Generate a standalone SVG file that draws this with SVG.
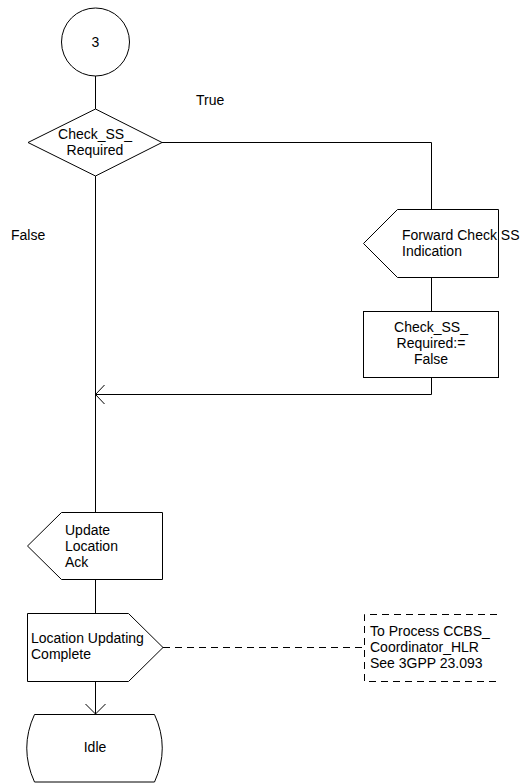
<svg xmlns="http://www.w3.org/2000/svg" width="522" height="783" viewBox="0 0 522 783">
<style>
.s{fill:#fff;stroke:#000;stroke-width:1}
.l{fill:none;stroke:#000;stroke-width:1}
.d{fill:none;stroke:#000;stroke-width:1;stroke-dasharray:7,5}
text{font-family:"Liberation Sans",Arial,sans-serif;font-size:14px;fill:#000}
.c{text-anchor:middle}
</style>
<rect width="522" height="783" fill="#fff"/>
<g id="connectors">
<path class="l" d="M95.5,76 V109"/>
<path class="l" d="M162,142.5 H431.5 V209"/>
<path class="l" d="M431.5,277 V311"/>
<path class="l" d="M431.5,377 V394.5 H95.5"/>
<path class="l" d="M104.5,385 L95.5,394.5 L104.5,404"/>
<path class="l" d="M95.5,176 V512"/>
<path class="l" d="M95.5,579 V613"/>
<path class="l" d="M95.5,681 V714"/>
<path class="l" d="M85.5,704 L95.5,714 L105.5,704"/>
<path class="d" d="M163,647.5 H364"/>
</g>
<g id="start">
<circle class="s" cx="95.5" cy="42" r="34"/>
<text class="c" x="95.5" y="47">3</text>
</g>
<g id="decision">
<path class="s" d="M95.5,109 L162,142.5 L95.5,176 L28,142.5 Z"/>
<text class="c" x="95" y="139">Check_SS_</text>
<text class="c" x="95" y="155">Required</text>
</g>
<text x="196" y="105">True</text>
<text x="11" y="240">False</text>
<g id="forward">
<path class="s" d="M397.5,209.5 H498.5 V277.5 H397.5 L363.5,243.5 Z"/>
<text x="402" y="240">Forward Check SS</text>
<text x="402" y="256">Indication</text>
</g>
<g id="task">
<rect class="s" x="363.5" y="311.5" width="135" height="66"/>
<text class="c" x="431" y="332">Check_SS_</text>
<text class="c" x="431" y="348">Required:=</text>
<text class="c" x="431" y="364">False</text>
</g>
<g id="ack">
<path class="s" d="M61.5,512.5 H162.5 V579.5 H61.5 L27.5,546 Z"/>
<text x="65" y="535">Update</text>
<text x="65" y="551">Location</text>
<text x="65" y="567">Ack</text>
</g>
<g id="complete">
<path class="s" d="M27.5,613.5 H128.5 L163,647.5 L128.5,681.5 H27.5 Z"/>
<text x="31" y="643">Location Updating</text>
<text x="31" y="659">Complete</text>
</g>
<g id="comment">
<path class="d" d="M497,614.5 H364.5 V681.5 H497"/>
<text x="370" y="636">To Process CCBS_</text>
<text x="370" y="652">Coordinator_HLR</text>
<text x="370" y="668">See 3GPP 23.093</text>
</g>
<g id="idle">
<path class="s" d="M34.5,714.5 H154.5 Q170,748 154.5,782 H34.5 Q19,748 34.5,714.5 Z"/>
<text class="c" x="95" y="752">Idle</text>
</g>
</svg>
